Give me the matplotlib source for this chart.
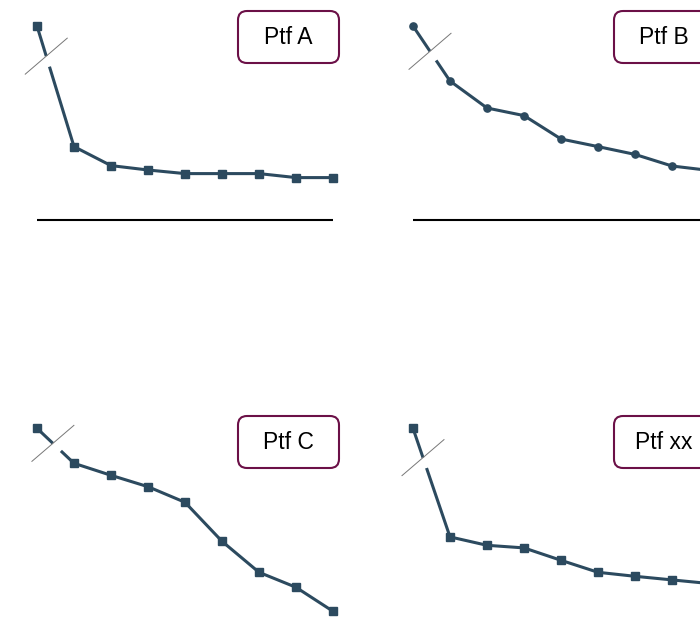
import matplotlib
matplotlib.use('Agg')
import matplotlib.pyplot as plt
import numpy as np
from matplotlib.patches import FancyBboxPatch
from matplotlib.lines import Line2D
from matplotlib.transforms import IdentityTransform

plt.rcParams['font.family'] = ['Liberation Sans', 'DejaVu Sans']

# values (first point sits above the axis break)
periods = list(range(9))
ptf_a = [9.7, 3.67, 2.72, 2.5, 2.32, 2.32, 2.32, 2.12, 2.12]
ptf_b = [9.7, 6.95, 5.6, 5.22, 4.05, 3.67, 3.28, 2.7, 2.48]
ptf_c = [9.7, 7.95, 7.35, 6.78, 6.0, 4.05, 2.5, 1.75, 0.55]
ptf_xx = [9.7, 4.27, 3.85, 3.72, 3.1, 2.5, 2.3, 2.12, 1.94]

labels = ['Ptf A', 'Ptf B', 'Ptf C', 'Ptf xx']
series = [ptf_a, ptf_b, ptf_c, ptf_xx]
markers = ['s', 'o', 's', 's']
break_at = [0.25, 0.46, 0.43, 0.27]   # where the break mark crosses the first segment

line_color = '#2c4a5f'
box_color = '#6b1047'

W, H = 700, 620
fig = plt.figure(figsize=(W / 100, H / 100), dpi=100)

# axes placement in pixels: left edge, baseline (from top)
lefts = [37, 413, 37, 413]
bottoms = [220, 220, 622.3, 622.3]
box_tops = [11, 11, 416, 416]
ax_w, ax_h = 296, 210

for i, (vals, lab) in enumerate(zip(series, labels)):
    ax = fig.add_axes([lefts[i] / W, (H - bottoms[i]) / H, ax_w / W, ax_h / H])
    ax.set_xlim(0, 8)
    ax.set_ylim(0, 10.5)
    ax.axis('off')

    ax.plot([0, 8], [0, 0], color='black', lw=1.5, clip_on=False,
            solid_capstyle='butt')
    ms = 5.2 if markers[i] == 'o' else 5.8
    ax.plot(periods, vals, color=line_color, lw=2.2, marker=markers[i],
            markersize=ms, clip_on=False, zorder=3)

    # axis break on the first segment
    p0 = ax.transData.transform((periods[0], vals[0]))
    p1 = ax.transData.transform((periods[1], vals[1]))
    d = p1 - p0
    c = p0 + break_at[i] * d
    u = d / np.hypot(*d)
    g = c + 11 * u
    fig.add_artist(Line2D([c[0], g[0]], [c[1], g[1]], color='white', lw=5,
                          solid_capstyle='butt', transform=IdentityTransform(),
                          zorder=5))
    fig.add_artist(Line2D([c[0] - 21, c[0] + 21], [c[1] - 18, c[1] + 18],
                          color='#777777', lw=0.7,
                          transform=IdentityTransform(), zorder=6))

    # label box
    bx0, by0 = lefts[i] + 201, H - (box_tops[i] + 52)
    box = FancyBboxPatch((bx0, by0), 101, 52,
                         boxstyle='round,pad=0,rounding_size=9',
                         facecolor='white', edgecolor=box_color, lw=1.5,
                         transform=IdentityTransform(), zorder=7)
    fig.add_artist(box)
    fig.text((bx0 + 50) / W, (by0 + 25.5) / H, lab, ha='center', va='center',
             fontsize=16.5, color='black', zorder=8)

fig.savefig('out.png', dpi=100)
